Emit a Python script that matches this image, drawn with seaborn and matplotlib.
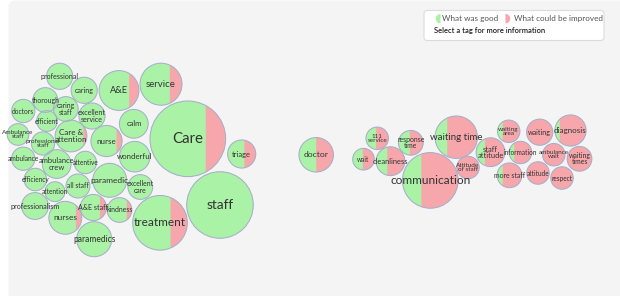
import numpy as np
import matplotlib
matplotlib.use("Agg")
import matplotlib.pyplot as plt
import seaborn as sns
import pandas as pd
from matplotlib.patches import Circle, Polygon, FancyBboxPatch, Wedge

# ---------------- data ----------------
tags = ["Care", "staff", "treatment", "service", "A&E", "paramedics", "paramedic",
        "nurses", "Care &\nattention", "nurse", "wonderful", "calm", "triage",
        "ambulance\ncrew", "professionalism", "professional", "caring",
        "excellent\nservice", "A&E staff", "excellent\ncare", "thorough",
        "caring\nstaff", "kindness", "all staff", "doctors", "professional\nstaff",
        "ambulance", "efficiency", "attentive", "Ambulance\nstaff", "efficient",
        "attention",
        "communication", "waiting time", "doctor", "diagnosis", "cleanliness",
        "staff\nattitude", "waiting", "response\ntime", "more staff",
        "waiting\ntimes", "Attitude\nof staff", "waiting\narea", "attitude",
        "respect", "111\nservice", "information", "ambulance\nwait", "wait"]

mentions = [159, 123, 83, 49, 44, 34, 32, 30, 28, 27, 26, 23, 22, 23, 20, 19, 19,
            19, 19, 17, 17, 17, 17, 16, 15, 15, 15, 14, 14, 13, 12, 11,
            86, 50, 33, 27, 23, 23, 19, 17, 17, 17, 14, 14, 14, 14, 14, 14, 14, 13]

# percent of mentions tagged "What was good"
good_share = [79, 100, 74, 76, 81, 100, 100, 88, 94, 88, 100, 100, 62, 100, 100,
              100, 100, 100, 81, 100, 100, 100, 85, 100, 100, 100, 100, 100, 100,
              100, 100, 100,
              30, 24, 50, 10, 36, 26, 0, 45, 17, 0, 0, 18, 0, 0, 44, 17, 0, 46]

# packed-bubble layout positions
layout_x = [187.8, 220.0, 160.0, 161.0, 119.0, 94.2, 109.7, 65.3, 71.0, 106.5,
            134.7, 133.8, 241.7, 56.7, 35.0, 59.7, 84.2, 92.0, 93.3, 140.3, 45.3,
            65.8, 119.5, 78.0, 23.3, 43.0, 23.3, 35.3, 85.3, 18.0, 47.0, 55.0,
            430.3, 456.2, 316.2, 570.5, 390.5, 490.5, 539.7, 410.8, 509.5, 579.5,
            468.0, 508.7, 538.0, 562.0, 377.2, 520.5, 553.8, 363.5]
layout_y = [138.8, 205.0, 222.8, 84.2, 90.5, 239.2, 180.3, 217.8, 136.0, 141.0,
            156.7, 123.8, 154.0, 164.0, 206.0, 76.3, 90.3, 116.0, 207.5, 187.0,
            100.0, 109.0, 210.0, 186.0, 111.0, 143.5, 158.7, 179.5, 162.5, 134.5,
            121.0, 191.7,
            180.4, 137.2, 154.8, 130.5, 161.2, 152.2, 132.2, 142.8, 175.3, 158.8,
            167.5, 131.3, 173.0, 178.0, 138.3, 152.5, 154.7, 159.2]

legend_labels = ["What was good", "What could be improved"]
legend_hint = "Select a tag for more information"

# ---------------- style ----------------
sns.set_theme(style="white")
plt.rcParams['font.family'] = ['Lato', 'DejaVu Sans']

GREEN = '#aaf2a6'
RED = '#f7a7ab'
EDGE = '#a6afca'
TEXT = '#333333'

df = pd.DataFrame(dict(tag=tags, n=mentions, good=good_share, x=layout_x, y=layout_y))
df['r'] = 3.0 * np.sqrt(df['n'])

W, H, DPI = 620, 296, 100
fig = plt.figure(figsize=(W / DPI, H / DPI), dpi=DPI)
fig.patch.set_facecolor('white')
ax = fig.add_axes([0, 0, 1, 1])

# background panel
ax.add_patch(FancyBboxPatch((8.5, 0.5), 640, 320,
                            boxstyle="round,pad=0,rounding_size=7",
                            fc='#f4f4f4', ec='none', zorder=0))

px2pt = 72.0 / DPI
sns.scatterplot(data=df, x='x', y='y', s=(2 * df['r'] * px2pt) ** 2,
                color=GREEN, edgecolor='none', linewidth=0, legend=False,
                ax=ax, zorder=2)


def red_fraction(d):
    return (np.arccos(d) - d * np.sqrt(1 - d * d)) / np.pi


for _, row in df.iterrows():
    cx, cy, r = row.x, row.y, row.r
    red = 1 - row.good / 100.0
    if red > 0.999:
        ax.add_patch(Circle((cx, cy), r, fc=RED, ec='none', zorder=3))
    elif red > 0.001:
        lo, hi = -1.0, 1.0
        for _ in range(60):
            mid = (lo + hi) / 2
            if red_fraction(mid) > red:
                lo = mid
            else:
                hi = mid
        d = (lo + hi) / 2
        t0 = np.arccos(d)
        th = np.linspace(-t0, t0, 80)
        pts = np.column_stack([cx + r * np.cos(th), cy + r * np.sin(th)])
        ax.add_patch(Polygon(pts, closed=True, fc=RED, ec='none', zorder=3))
    ax.add_patch(Circle((cx, cy), r, fill=False, ec=EDGE, lw=0.75, zorder=4))

for _, row in df.iterrows():
    fs = max(4.7, 4.9 + 0.23 * (row.r - 12))
    if '\n' in row.tag and row.r < 12:
        fs = 4.6
    ax.text(row.x, row.y, row.tag, ha='center', va='center', fontsize=fs,
            color=TEXT, linespacing=0.88, zorder=5)

# legend box
ax.add_patch(FancyBboxPatch((424, 10.5), 180, 30,
                            boxstyle="round,pad=0,rounding_size=3",
                            fc='white', ec='#dcdcdc', lw=0.8, zorder=6))
ax.add_patch(Wedge((440.5, 18.7), 4.7, 90, 270, fc=GREEN, ec='none', zorder=7))
ax.add_patch(Wedge((505.5, 18.7), 4.7, -90, 90, fc=RED, ec='none', zorder=7))
ax.text(442.5, 18.7, legend_labels[0], ha='left', va='center', fontsize=5.9,
        color='#555555', zorder=7)
ax.text(513.5, 18.7, legend_labels[1], ha='left', va='center', fontsize=5.9,
        color='#555555', zorder=7)
ax.text(434, 31, legend_hint, ha='left', va='center', fontsize=5.5,
        color='#222222', fontweight='semibold', zorder=7)

ax.set_xlim(0, W)
ax.set_ylim(H, 0)
ax.set_aspect('auto')
ax.axis('off')

fig.savefig('out.png', dpi=DPI, facecolor=fig.get_facecolor())
